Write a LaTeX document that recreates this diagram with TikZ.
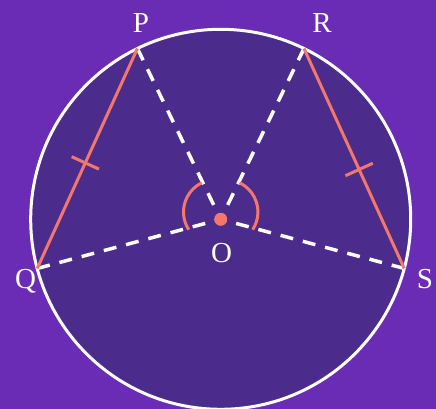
\documentclass[tikz,border=0pt]{standalone}
\usepackage{fontspec}
\setmainfont{Liberation Serif}
\usetikzlibrary{calc}
\definecolor{bgpurple}{HTML}{6A2CB5}
\definecolor{discfill}{HTML}{4B2C8C}
\definecolor{salmon}{HTML}{F4776B}
\tikzset{
  rim/.style={draw=white, line width=3pt, fill=discfill},
  chord/.style={draw=salmon, line width=3pt},
  radius line/.style={draw=white, line width=3.5pt, dash pattern=on 13pt off 10pt},
  anglemark/.style={draw=salmon, line width=3pt},
  lbl/.style={text=white, font=\fontsize{29}{32}\selectfont, inner sep=0pt, anchor=base},
}
\begin{document}
\begin{tikzpicture}[x=1pt,y=1pt]
\fill[bgpurple] (0,0) rectangle (436,409);
\useasboundingbox (0,0) rectangle (436,409);
\coordinate (O) at (220.7,189.7);
\draw[rim] (O) circle[radius=190];
\coordinate (P) at ($(O)+(116:190)$);
\coordinate (R) at ($(O)+(64:190)$);
\coordinate (Q) at ($(O)+(195:190)$);
\coordinate (S) at ($(O)+(-15:190)$);
% radii
\draw[radius line] (P) -- (O);
\draw[radius line] (R) -- (O);
\draw[radius line] (Q) -- (O);
\draw[radius line] (S) -- (O);
% chords
\draw[chord] (P) -- (Q);
\draw[chord] (R) -- (S);
% ticks
\path (P) -- (Q) coordinate[pos=0.52] (t1);
\path (R) -- (S) coordinate[pos=0.55] (t2);
\draw[chord] ($(t1)!15pt!90:(P)$) -- ($(t1)!15pt!-90:(P)$);
\draw[chord] ($(t2)!15pt!90:(R)$) -- ($(t2)!15pt!-90:(R)$);
% angle marks
\coordinate (cl) at ($(O)+(-4.7,7.3)$);
\coordinate (cr) at ($(O)+(4.7,7.3)$);
\draw[anglemark] ($(cl)+(213:32.5)$) arc[start angle=213, end angle=116, radius=32.5];
\draw[anglemark] ($(cr)+(-33:32.5)$) arc[start angle=-33, end angle=64, radius=32.5];
% centre dot
\fill[salmon] (O) circle[radius=6.5];
% labels
\node[lbl] (lP) at (141,376) {P};
\node[lbl] (lR) at (322,376) {R};
\node[lbl] (lQ) at (25.5,120) {Q};
\node[lbl] (lS) at (425,120.5) {S};
\node[lbl] (lO) at (221.7,146) {O};
\end{tikzpicture}
\end{document}
